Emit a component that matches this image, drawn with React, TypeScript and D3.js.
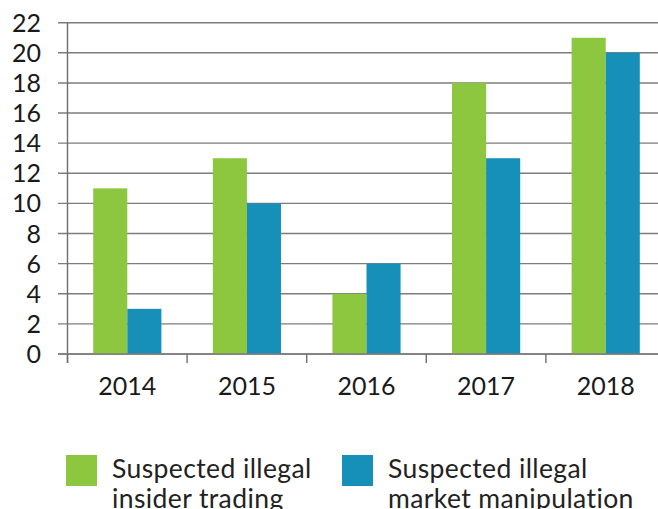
import React from "react";
import * as d3 from "d3";

const years = ["2014", "2015", "2016", "2017", "2018"];
const seriesNames = ["Suspected illegal insider trading", "Suspected illegal market manipulation"];
const insiderTrading = [11, 13, 4, 18, 21];
const marketManipulation = [3, 10, 6, 13, 20];
const yTicks = [0, 2, 4, 6, 8, 10, 12, 14, 16, 18, 20, 22];
const legendLines = [
  ["Suspected illegal", "insider trading"],
  ["Suspected illegal", "market manipulation"],
];

const colors = ["#8DC63F", "#1790B9"];
const W = 658;
const H = 509;
const FONT = "Lato, sans-serif";
const FS = 25;
const LFS = 26.5;

export default function App() {
  const x0 = 67.5;
  const x1 = 665.5;
  const yTop = 22.7;
  const yBot = 354;
  const x = d3.scaleBand<string>().domain(years).range([x0, x1]).paddingInner(0.43).paddingOuter(0.215);
  const xs = d3.scaleBand<number>().domain([0, 1]).range([0, x.bandwidth()]).padding(0);
  const y = d3.scaleLinear().domain([0, 22]).range([yBot, yTop]);
  const step = x.step();
  const data = [insiderTrading, marketManipulation];

  return (
    <svg width={W} height={H} style={{ position: "absolute", left: 0, top: 0, display: "block" }}>
      <rect width={W} height={H} fill="#fff" />
      {yTicks.map((t) => (
        <line key={"g" + t} x1={58} x2={W} y1={y(t)} y2={y(t)} stroke="#7d7d7d" strokeWidth={1.4} />
      ))}
      {yTicks.map((t) => (
        <text key={"yl" + t} x={41} y={y(t)} dy="0.36em" textAnchor="end" fontFamily={FONT} fontSize={FS} fill="#1a1a1a">
          {t}
        </text>
      ))}
      {years.map((yr, i) =>
        data.map((s, k) => (
          <rect
            key={yr + k}
            x={(x(yr) as number) + (xs(k) as number)}
            y={y(s[i])}
            width={xs.bandwidth()}
            height={yBot - y(s[i])}
            fill={colors[k]}
          />
        ))
      )}
      <line x1={x0} x2={x0} y1={yTop} y2={363} stroke="#6e6e6e" strokeWidth={1.4} />
      <line x1={58} x2={W} y1={yBot} y2={yBot} stroke="#7d7d7d" strokeWidth={1.6} />
      {years.map((yr, i) => (
        <line key={"t" + yr} x1={x0 + i * step} x2={x0 + i * step} y1={yBot} y2={363} stroke="#6e6e6e" strokeWidth={1.4} />
      ))}
      {years.map((yr) => (
        <text key={"xl" + yr} x={(x(yr) as number) + x.bandwidth() / 2} y={395} textAnchor="middle" fontFamily={FONT} fontSize={FS} fill="#1a1a1a">
          {yr}
        </text>
      ))}
      {seriesNames.map((name, k) => {
        const lx = k === 0 ? 66 : 342;
        return (
          <g key={name}>
            <rect x={lx} y={455} width={31} height={31} fill={colors[k]} />
            {legendLines[k].map((ln, j) => (
              <text key={j} x={lx + 46} y={477.5 + j * 30} fontFamily={FONT} fontSize={LFS} fill="#222" letterSpacing={0.4}>
                {ln}
              </text>
            ))}
          </g>
        );
      })}
    </svg>
  );
}
